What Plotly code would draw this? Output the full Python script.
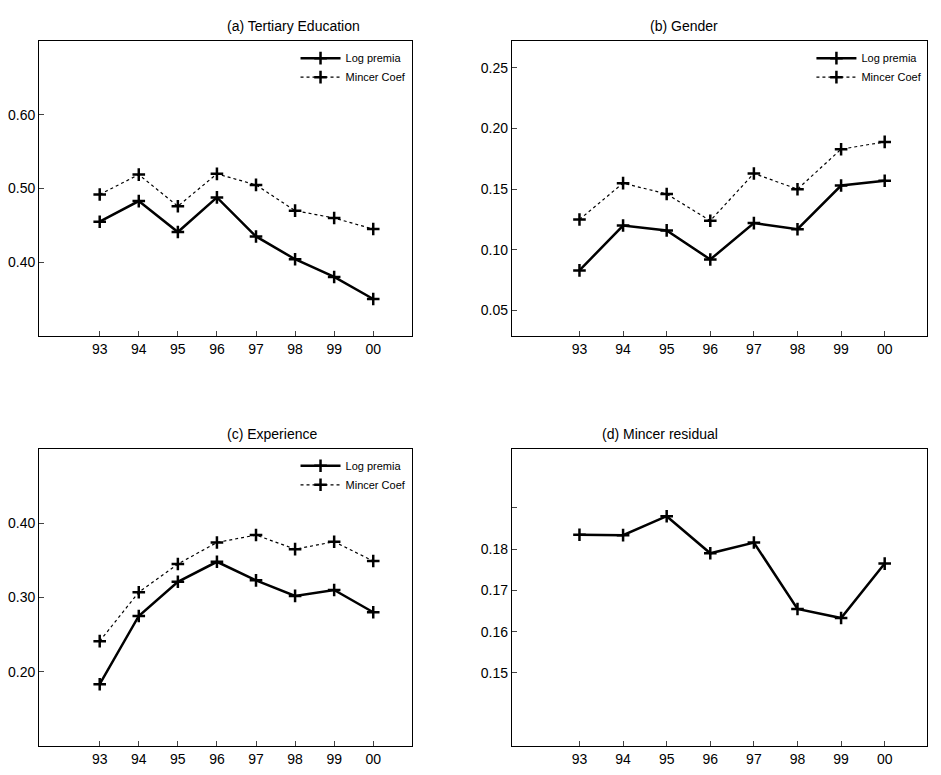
import plotly.graph_objects as go

years = ["93","94","95","96","97","98","99","00"]
edu_log = [0.455,0.483,0.441,0.488,0.435,0.404,0.380,0.350]
edu_min = [0.492,0.519,0.476,0.520,0.505,0.470,0.460,0.445]
gen_log = [0.083,0.120,0.116,0.092,0.122,0.117,0.153,0.157]
gen_min = [0.125,0.155,0.146,0.124,0.163,0.150,0.183,0.189]
exp_log = [0.183,0.275,0.321,0.348,0.323,0.302,0.310,0.280]
exp_min = [0.241,0.307,0.345,0.374,0.384,0.365,0.375,0.349]
resid = [0.1835,0.1834,0.1880,0.1790,0.1816,0.1655,0.1633,0.1765]

x = list(range(len(years)))
fig = go.Figure()
mk = dict(symbol="cross-thin", size=9, line=dict(width=2.5, color="black"), color="black")

def add(y, xa, ya, name, dotted, legend, show):
    fig.add_trace(go.Scatter(x=x, y=y, xaxis=xa, yaxis=ya, name=name, mode="lines+markers",
        line=dict(color="black", width=1.2 if dotted else 2.5, dash="dot" if dotted else "solid"),
        marker=mk, legend=legend, showlegend=show))

add(edu_log,"x","y","Log premia",False,"legend",True)
add(edu_min,"x","y","Mincer Coef",True,"legend",True)
add(gen_log,"x2","y2","Log premia",False,"legend2",True)
add(gen_min,"x2","y2","Mincer Coef",True,"legend2",True)
add(exp_log,"x3","y3","Log premia",False,"legend3",True)
add(exp_min,"x3","y3","Mincer Coef",True,"legend3",True)
add(resid,"x4","y4","resid",False,"legend",False)

xl, xr = [0.030,0.427], [0.534,0.977]
yt, yb = [0.577,0.957], [0.048,0.431]
ax = dict(showline=True, mirror=True, linecolor="black", linewidth=1, ticks="inside", ticklen=5,
          showgrid=False, zeroline=False, tickfont=dict(size=14, color="black"))
def xaxis(dom, anchor):
    return dict(ax, domain=dom, anchor=anchor, range=[-1.55,7.98], tickvals=x, ticktext=years)
fig.update_layout(
    xaxis=xaxis(xl,"y"), xaxis2=xaxis(xr,"y2"), xaxis3=xaxis(xl,"y3"), xaxis4=xaxis(xr,"y4"),
    yaxis=dict(ax, domain=yt, anchor="x", range=[0.3,0.7], tickvals=[0.4,0.5,0.6], tickformat=".2f"),
    yaxis2=dict(ax, domain=yt, anchor="x2", range=[0.029,0.272], tickvals=[0.05,0.1,0.15,0.2,0.25], tickformat=".2f"),
    yaxis3=dict(ax, domain=yb, anchor="x3", range=[0.1,0.5], tickvals=[0.2,0.3,0.4], tickformat=".2f"),
    yaxis4=dict(ax, domain=yb, anchor="x4", range=[0.1323,0.2043], tickvals=[0.15,0.16,0.17,0.18,0.19],
                ticktext=["0.15","0.16","0.17","0.18",""]),
    width=941, height=775, margin=dict(l=0,r=0,t=0,b=0), plot_bgcolor="white", paper_bgcolor="white",
    font=dict(family="Liberation Sans, Arial", color="black"),
)
lg = dict(font=dict(size=11), bgcolor="rgba(0,0,0,0)", xanchor="right", yanchor="top", tracegroupgap=0, itemwidth=40)
fig.update_layout(legend=dict(lg, x=xl[1], y=yt[1]-0.003),
                  legend2=dict(lg, x=xr[1], y=yt[1]-0.003),
                  legend3=dict(lg, x=xl[1], y=yb[1]-0.003))
for txt, xc, yc in [("(a) Tertiary Education",sum(xl)/2,yt[1]),("(b) Gender",sum(xr)/2,yt[1]),
                    ("(c) Experience",sum(xl)/2,yb[1]),("(d) Mincer residual",sum(xr)/2,yb[1])]:
    fig.add_annotation(text=txt, x=xc, y=yc, xref="paper", yref="paper", yanchor="bottom",
                       showarrow=False, font=dict(size=14), yshift=5)
fig.write_html("out.html")
